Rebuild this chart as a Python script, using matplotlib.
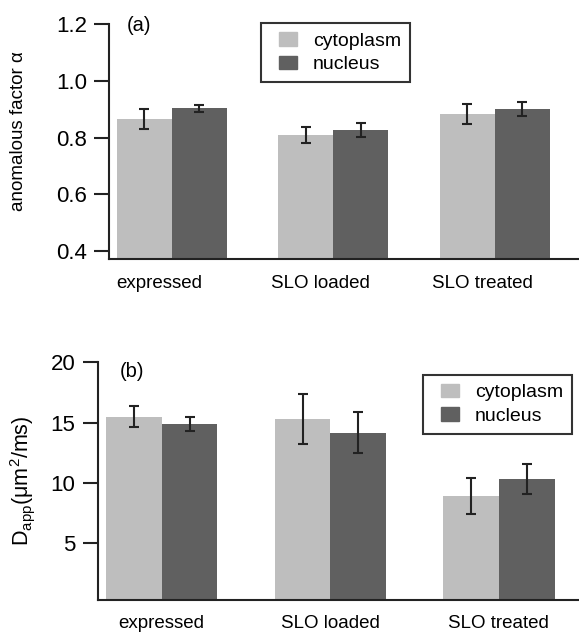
import numpy as np
import matplotlib
matplotlib.use("Agg")
import matplotlib.pyplot as plt
import matplotlib.transforms as mtransforms
from matplotlib.patches import Rectangle
from matplotlib.legend_handler import HandlerPatch

plt.rcParams["font.family"] = ["Liberation Sans", "DejaVu Sans"]
plt.rcParams["mathtext.fontset"] = "custom"
plt.rcParams["mathtext.rm"] = "Liberation Sans"
plt.rcParams["mathtext.it"] = "Liberation Sans:italic"

categories = ["expressed", "SLO loaded", "SLO treated"]
series = ["cytoplasm", "nucleus"]

# (a) anomalous factor
alpha_cyto = [0.866, 0.809, 0.883]
alpha_cyto_err = [0.035, 0.027, 0.036]
alpha_nuc = [0.904, 0.827, 0.901]
alpha_nuc_err = [0.012, 0.026, 0.024]

# (b) apparent diffusion coefficient
d_cyto = [15.47, 15.30, 8.92]
d_cyto_err = [0.87, 2.10, 1.52]
d_nuc = [14.89, 14.17, 10.31]
d_nuc_err = [0.61, 1.70, 1.24]

light = "#bebebe"
dark = "#606060"
ink = "#222222"


def square_patch(legend, orig_handle, xdescent, ydescent, width, height, fontsize):
    # small square pushed to the right end of the handle box
    pw = 0.93 * fontsize
    return Rectangle((-xdescent + width - pw, -ydescent), pw, height)


def draw_panel(ax, cyto, cyto_err, nuc, nuc_err, width):
    x = np.arange(len(categories))
    ax.bar(x - width / 2, cyto, width, color=light, label=series[0], zorder=2)
    ax.bar(x + width / 2, nuc, width, color=dark, label=series[1], zorder=2)
    ebkw = dict(fmt="none", ecolor=ink, elinewidth=1.5, capsize=3.6, capthick=1.5, zorder=3)
    ax.errorbar(x - width / 2, cyto, yerr=cyto_err, **ebkw)
    ax.errorbar(x + width / 2, nuc, yerr=nuc_err, **ebkw)

    ax.set_xticks(x)
    ax.set_xticklabels(categories, fontsize=13.5)
    ax.tick_params(axis="x", length=0, pad=11)
    ax.tick_params(axis="y", length=11, width=1.5, color=ink, pad=5, labelsize=16)

    for s in ["top", "right"]:
        ax.spines[s].set_visible(False)
    for s in ["left", "bottom"]:
        ax.spines[s].set_linewidth(1.5)
        ax.spines[s].set_color(ink)


def add_legend(ax, anchor):
    handles = [Rectangle((0, 0), 1, 1, color=light), Rectangle((0, 0), 1, 1, color=dark)]
    leg = ax.legend(handles, series, loc="upper left", bbox_to_anchor=anchor,
                    borderaxespad=0, fontsize=14, handlelength=1.41, handleheight=0.7,
                    handletextpad=0.82, borderpad=0.45, labelspacing=0.3,
                    fancybox=False, frameon=True,
                    handler_map={Rectangle: HandlerPatch(patch_func=square_patch)})
    leg.get_frame().set_edgecolor("black")
    leg.get_frame().set_linewidth(1.5)


dpi = 100
fig = plt.figure(figsize=(579 / dpi, 633 / dpi), dpi=dpi)

ax1 = fig.add_axes([0.1883, 0.5904, 0.8117, 0.3712])
draw_panel(ax1, alpha_cyto, alpha_cyto_err, alpha_nuc, alpha_nuc_err, 0.34)
ax1.set_xlim(-0.387, 2.52)
ax1.set_ylim(0.371, 1.2)
ax1.set_yticks([0.4, 0.6, 0.8, 1.0, 1.2])
ax1.set_yticklabels(["0.4", "0.6", "0.8", "1.0", "1.2"])
ax1.set_ylabel("anomalous factor α", fontsize=13.5)
ax1.yaxis.set_label_coords(-0.1745, 0.547)
ax1.text(0.038, 0.997, "(a)", transform=ax1.transAxes, fontsize=14.5, va="center")
shift = mtransforms.ScaledTranslation(-9 / 72, 0, fig.dpi_scale_trans)
for lbl in ax1.get_xticklabels():
    lbl.set_transform(lbl.get_transform() + shift)
add_legend(ax1, (0.323, 1.004))

ax2 = fig.add_axes([0.1687, 0.0521, 0.8313, 0.3756])
draw_panel(ax2, d_cyto, d_cyto_err, d_nuc, d_nuc_err, 0.33)
ax2.set_xlim(-0.38, 2.475)
ax2.set_ylim(0.3, 20)
ax2.set_yticks([5, 10, 15, 20])
ax2.set_ylabel(r"D$_{\rm app}$(μm$^{2}$/ms)", fontsize=15.5)
ax2.yaxis.set_label_coords(-0.127, 0.502)
ax2.text(0.046, 0.96, "(b)", transform=ax2.transAxes, fontsize=14.5, va="center")
add_legend(ax2, (0.675, 0.9466))

fig.savefig("out.png", dpi=dpi)
plt.close(fig)
